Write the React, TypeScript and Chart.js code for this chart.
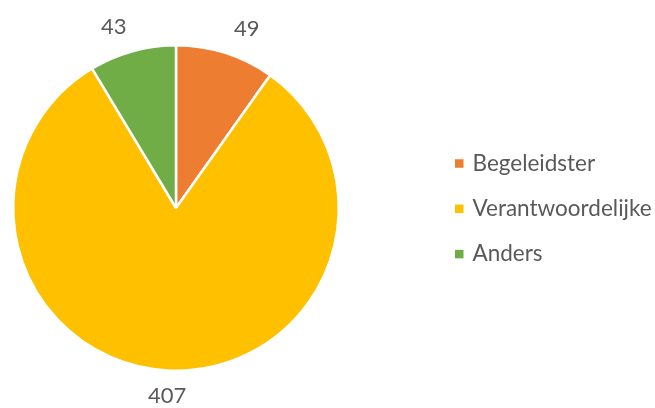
import React, { useEffect, useRef } from "react";
import { Chart, registerables } from "chart.js";

Chart.register(...registerables);

const categories = ["Begeleidster", "Verantwoordelijke", "Anders"];
const values = [49, 407, 43];
const colors = ["#ED7D31", "#FFC000", "#70AD47"];

const FONT = "Lato, 'Open Sans', sans-serif";
const TEXT_COLOR = "#595959";

const labelPlugin = {
  id: "outsideLabels",
  afterDatasetsDraw(chart: any) {
    const ctx = chart.ctx;
    const meta = chart.getDatasetMeta(0);
    ctx.save();
    ctx.font = `22px ${FONT}`;
    ctx.fillStyle = TEXT_COLOR;
    ctx.textAlign = "center";
    ctx.textBaseline = "middle";
    meta.data.forEach((arc: any, i: number) => {
      const { x, y, startAngle, endAngle, outerRadius } = arc.getProps(
        ["x", "y", "startAngle", "endAngle", "outerRadius"],
        true
      );
      const mid = (startAngle + endAngle) / 2;
      const dx = Math.cos(mid);
      const dy = Math.sin(mid);
      const r = outerRadius + 25;
      const lx = x + r * dx + dx * 45;
      const ly = y + r * dy;
      ctx.fillText(String(chart.data.datasets[0].data[i]), lx, ly);
    });
    ctx.restore();
  },
};

const legendPlugin = {
  id: "sideLegend",
  afterDraw(chart: any) {
    const ctx = chart.ctx;
    const opts = chart.options.plugins.sideLegend;
    ctx.save();
    ctx.font = `22.5px ${FONT}`;
    ctx.textAlign = "left";
    ctx.textBaseline = "middle";
    chart.data.labels.forEach((label: string, i: number) => {
      const cy = opts.top + i * opts.spacing;
      ctx.fillStyle = chart.data.datasets[0].backgroundColor[i];
      ctx.fillRect(opts.left, cy - opts.box / 2, opts.box, opts.box);
      ctx.fillStyle = TEXT_COLOR;
      ctx.fillText(label, opts.left + opts.box + 9, cy);
    });
    ctx.restore();
  },
};

export default function App() {
  const ref = useRef<HTMLCanvasElement>(null);
  useEffect(() => {
    document.body.style.margin = "0";
    const chart = new Chart(ref.current!, {
      type: "pie",
      data: {
        labels: categories,
        datasets: [
          {
            data: values,
            backgroundColor: colors,
            borderColor: "#FFFFFF",
            borderWidth: 2.5,
          },
        ],
      },
      options: {
        responsive: false,
        animation: false,
        layout: { padding: { left: 12, right: 315, top: 44, bottom: 36 } },
        plugins: {
          legend: { display: false },
          tooltip: { enabled: false },
          sideLegend: { left: 455, top: 163.5, spacing: 45.3, box: 8.5 },
        } as any,
      },
      plugins: [labelPlugin, legendPlugin],
    });
    return () => chart.destroy();
  }, []);
  return (
    <div style={{ width: 655, height: 408, background: "#fff" }}>
      <canvas ref={ref} width={655} height={408} style={{ display: "block" }} />
    </div>
  );
}
